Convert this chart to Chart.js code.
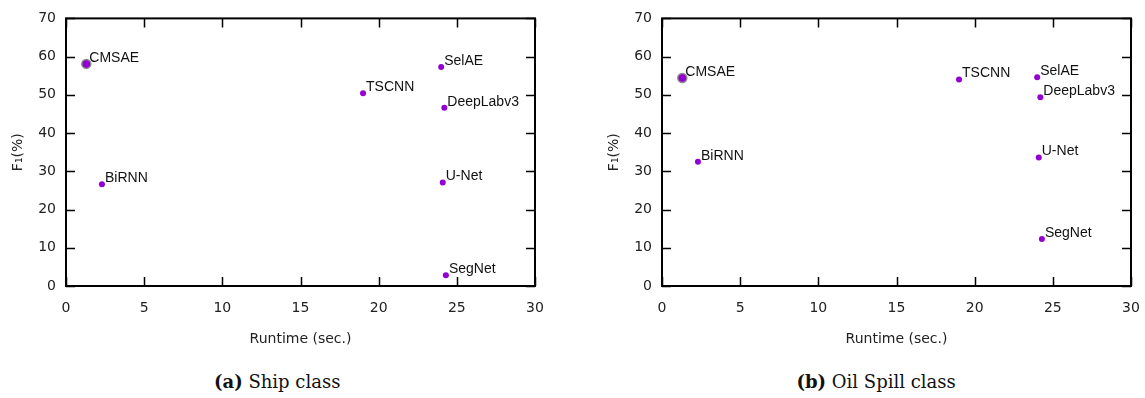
<!DOCTYPE html>
<html>
<head>
<meta charset="utf-8">
<script src="https://cdn.jsdelivr.net/npm/chart.js@4"></script>
<style>
  body { margin: 0; background: #fff; width: 1145px; height: 398px; position: relative; overflow: hidden; }
  .box { position: absolute; top: 0; width: 572px; height: 360px; }
  .cap { position: absolute; top: 371px; font-family: "DejaVu Serif", serif; font-size: 18px; color: #111; white-space: nowrap; }
</style>
</head>
<body>
<div class="box" style="left:0"><canvas id="shipChart"></canvas></div>
<div class="box" style="left:596px"><canvas id="oilChart"></canvas></div>
<div class="cap" id="capA"><b>(a)</b> Ship class</div>
<div class="cap" id="capB"><b>(b)</b> Oil Spill class</div>
<script>
// methods shown in both plots
const methods = ['CMSAE', 'BiRNN', 'TSCNN', 'SelAE', 'DeepLabv3', 'U-Net', 'SegNet'];

// runtime in seconds (x)
const shipRuntime = [1.3, 2.3, 19.0, 24.0, 24.2, 24.1, 24.3];
const oilRuntime = [1.3, 2.3, 19.0, 24.0, 24.2, 24.1, 24.3];

// F1 score in % (y)
const shipF1 = [58.1, 26.6, 50.4, 57.3, 46.6, 27.1, 2.8];
const oilF1 = [54.4, 32.5, 54.0, 54.6, 49.4, 33.6, 12.3];

const xTicks = [0, 5, 10, 15, 20, 25, 30];
const yTicks = [0, 10, 20, 30, 40, 50, 60, 70];

const purple = '#9400d3';

// draws the frame, inward tick marks and the point names
const framePlugin = {
    id: 'frame',
    afterDatasetsDraw(chart) {
        const ctx = chart.ctx;
        const area = chart.chartArea;
        const xs = chart.scales.x;
        const ys = chart.scales.y;
        const len = 9;
        ctx.save();
        ctx.strokeStyle = '#000';
        ctx.lineWidth = 1.5;
        xTicks.forEach(v => {
            const px = Math.round(xs.getPixelForValue(v)) + 0.5;
            ctx.beginPath();
            ctx.moveTo(px, area.bottom);
            ctx.lineTo(px, area.bottom - len);
            ctx.moveTo(px, area.top);
            ctx.lineTo(px, area.top + len);
            ctx.stroke();
        });
        yTicks.forEach(v => {
            const py = Math.round(ys.getPixelForValue(v)) + 0.5;
            ctx.beginPath();
            ctx.moveTo(area.left, py);
            ctx.lineTo(area.left + len, py);
            ctx.moveTo(area.right, py);
            ctx.lineTo(area.right - len, py);
            ctx.stroke();
        });
        ctx.lineWidth = 2;
        ctx.strokeRect(area.left, area.top, area.right - area.left, area.bottom - area.top);

        // labels next to the points
        ctx.fillStyle = '#111';
        ctx.font = '14px "Liberation Sans", Arial, sans-serif';
        ctx.textBaseline = 'middle';
        ctx.textAlign = 'left';
        const meta = chart.getDatasetMeta(0);
        meta.data.forEach((pt, i) => {
            ctx.fillText(methods[i], pt.x + 3, pt.y - 6);
        });
        ctx.restore();
    }
};

function makeChart(id, runtime, f1) {
    const points = runtime.map((x, i) => ({ x: x, y: f1[i] }));
    return new Chart(document.getElementById(id), {
        type: 'scatter',
        data: {
            datasets: [{
                data: points,
                backgroundColor: purple,
                borderColor: methods.map(m => m === 'CMSAE' ? '#8a8a8a' : purple),
                borderWidth: methods.map(m => m === 'CMSAE' ? 1.5 : 0),
                pointRadius: methods.map(m => m === 'CMSAE' ? 4.5 : 3),
                pointHoverRadius: 3
            }]
        },
        options: {
            responsive: false,
            animation: false,
            devicePixelRatio: 1,
            layout: { padding: { left: 0, right: 37, top: 15, bottom: 0 } },
            plugins: { legend: { display: false }, tooltip: { enabled: false } },
            scales: {
                x: {
                    type: 'linear',
                    min: 0, max: 30,
                    afterFit: s => { s.height = 74; },
                    afterBuildTicks: s => { s.ticks = xTicks.map(v => ({ value: v })); },
                    grid: { display: false, drawTicks: false },
                    border: { display: false },
                    ticks: { padding: 14, color: '#222', font: { family: '"DejaVu Sans"', size: 14 } },
                    title: {
                        display: true, text: 'Runtime (sec.)', color: '#222',
                        font: { family: '"DejaVu Sans"', size: 14 },
                        padding: { top: 0, bottom: 12 }
                    }
                },
                y: {
                    type: 'linear',
                    min: 0, max: 70,
                    afterFit: s => { s.width = 66; },
                    afterBuildTicks: s => { s.ticks = yTicks.map(v => ({ value: v })); },
                    grid: { display: false, drawTicks: false },
                    border: { display: false },
                    ticks: { padding: 10, color: '#222', font: { family: '"DejaVu Sans"', size: 14 } },
                    title: {
                        display: true, text: 'F₁(%)', color: '#222',
                        font: { family: '"DejaVu Sans"', size: 14 },
                        padding: { top: 10, bottom: 0 }
                    }
                }
            }
        },
        plugins: [framePlugin]
    });
}

document.getElementById('shipChart').width = 572;
document.getElementById('shipChart').height = 360;
document.getElementById('oilChart').width = 572;
document.getElementById('oilChart').height = 360;

makeChart('shipChart', shipRuntime, shipF1);
makeChart('oilChart', oilRuntime, oilF1);

// centre the captions under each plot
const capA = document.getElementById('capA');
const capB = document.getElementById('capB');
capA.style.left = (277 - capA.offsetWidth / 2) + 'px';
capB.style.left = (876 - capB.offsetWidth / 2) + 'px';
</script>
</body>
</html>
